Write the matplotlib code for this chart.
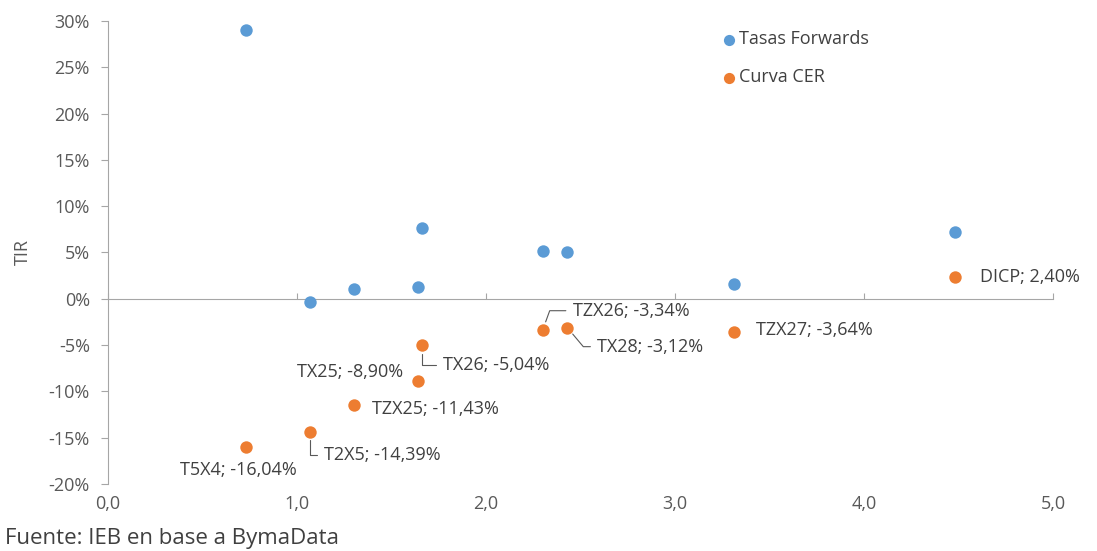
import matplotlib
matplotlib.use("Agg")
import matplotlib.pyplot as plt
from matplotlib.ticker import FuncFormatter

# Tasas Forwards (blue)
fwd_x = [0.73, 1.07, 1.30, 1.64, 1.66, 2.30, 2.43, 3.31, 4.48]
fwd_y = [29.0, -0.3, 1.1, 1.3, 7.6, 5.2, 5.0, 1.6, 7.2]

# Curva CER (orange)
cer_names = ["T5X4", "T2X5", "TZX25", "TX25", "TX26", "TZX26", "TX28", "TZX27", "DICP"]
cer_x = [0.73, 1.07, 1.30, 1.64, 1.66, 2.30, 2.43, 3.31, 4.48]
cer_y = [-16.04, -14.39, -11.43, -8.90, -5.04, -3.34, -3.12, -3.64, 2.40]

x_ticks = [0, 1, 2, 3, 4, 5]
y_ticks = [-20, -15, -10, -5, 0, 5, 10, 15, 20, 25, 30]

BLUE = "#5B9BD5"
ORANGE = "#ED7D31"
TXT = "#595959"
DARK = "#404040"
AX = "#a6a6a6"

plt.rcParams['font.family'] = ['Open Sans', 'DejaVu Sans']

fig = plt.figure(figsize=(10.97, 5.51), dpi=100)
ax = fig.add_axes([0.0985, 0.1216, 0.8615, 0.8404])

ax.scatter(fwd_x, fwd_y, s=80, color=BLUE, label="Tasas Forwards", zorder=3, linewidths=0)
ax.scatter(cer_x, cer_y, s=80, color=ORANGE, label="Curva CER", zorder=3, linewidths=0)

ax.set_xlim(0, 5)
ax.set_ylim(-20, 30)
ax.set_xticks(x_ticks)
ax.set_yticks(y_ticks)
ax.xaxis.set_major_formatter(FuncFormatter(lambda v, p: f"{v:.1f}".replace(".", ",")))
ax.yaxis.set_major_formatter(FuncFormatter(lambda v, p: f"{v:.0f}%"))

for s in ["top", "right", "bottom"]:
    ax.spines[s].set_visible(False)
ax.spines["left"].set_color(AX)
ax.tick_params(axis="y", colors=AX, labelcolor=TXT, labelsize=13, length=5,
               direction="out", pad=8)
ax.tick_params(axis="x", length=0, labelcolor=TXT, labelsize=13, pad=8)

# zero line with small ticks
zero = ax.secondary_xaxis(0.4)
zero.set_xticks(x_ticks)
zero.tick_params(axis="x", length=4, direction="in", colors=AX, labelbottom=False, labeltop=False)
zero.spines["bottom"].set_color(AX)
zero.spines["top"].set_color(AX)
zero.set_xticklabels([])

ax.set_ylabel("TIR", color=TXT, fontsize=13, labelpad=12)

# label offsets in pixels, alignment and leader style
offsets = {
    "T5X4": (-8, -23, "center", None),
    "T2X5": (14, -23, "left", "angle,angleA=0,angleB=90,rad=0"),
    "TZX25": (18, -4, "left", None),
    "TX25": (-15, 9, "right", None),
    "TX26": (21, -20, "left", "angle,angleA=0,angleB=90,rad=0"),
    "TZX26": (30, 19, "left", "angle,angleA=0,angleB=70,rad=0"),
    "TX28": (30, -19, "left", "angle,angleA=0,angleB=-50,rad=0"),
    "TZX27": (22, 2, "left", None),
    "DICP": (25, 0, "left", None),
}
for name, x, y in zip(cer_names, cer_x, cer_y):
    dx, dy, ha, conn = offsets[name]
    label = f"{name}; {y:.2f}%".replace(".", ",")
    arrow = None
    if conn:
        arrow = dict(arrowstyle="-", color=TXT, lw=0.8, connectionstyle=conn,
                     shrinkA=3, shrinkB=6)
    ax.annotate(label, (x, y), xytext=(dx, dy), textcoords="offset pixels",
                ha=ha, va="center", fontsize=13, color=DARK, arrowprops=arrow)

leg = ax.legend(loc="upper left", bbox_to_anchor=(0.64, 0.995), frameon=False,
                fontsize=13, handletextpad=0.05, handlelength=1.0,
                labelspacing=1.1, borderaxespad=0, markerscale=0.9)
for t in leg.get_texts():
    t.set_color(DARK)

fig.text(0.005, 0.012, "Fuente: IEB en base a BymaData", fontsize=16, color=DARK)

fig.savefig("out.png", dpi=100)
